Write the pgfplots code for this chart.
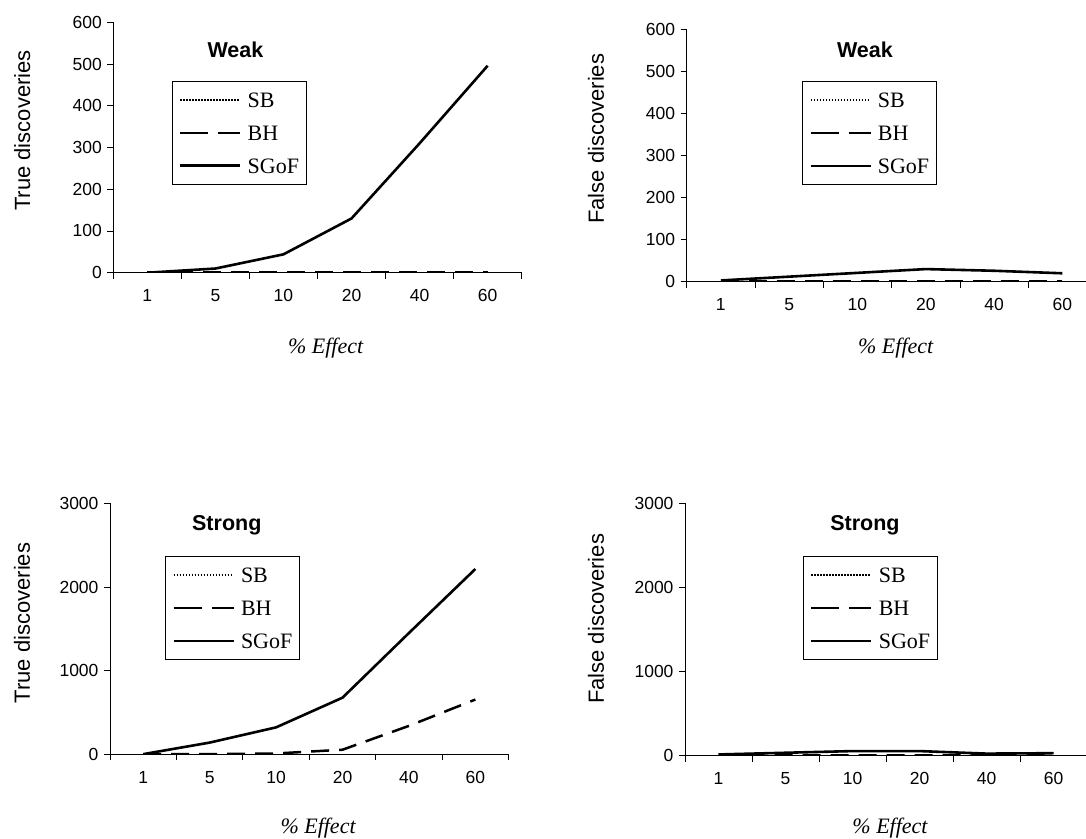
\documentclass[border=0pt]{standalone}
\usepackage{fontspec}
\setmainfont{Liberation Serif}
\setsansfont{Liberation Sans}
\usepackage{pgfplots}
\pgfplotsset{compat=1.18}

% Excel-like panel: left/bottom axis only, categories between boundary ticks
\pgfplotsset{
  excel/.style={
    scale only axis,
    axis lines*=left,
    axis line style={-, line width=0.8pt},
    anchor=south west,
    xmin=-0.5, xmax=5.5, ymin=0,
    tick align=outside,
    major tick length=6pt,
    every tick/.style={black, line width=0.8pt},
    xtick={-0.5,0.5,...,5.5}, xticklabels={},
    extra x ticks={0,1,2,3,4,5},
    extra x tick labels={1,5,10,20,40,60},
    extra x tick style={major tick length=0pt},
    scaled y ticks=false,
    /pgf/number format/1000 sep={},
    /pgf/number format/assume math mode=true,
    tick label style={font=\sffamily\fontsize{17.5}{17.5}\selectfont},
    xticklabel style={yshift=-13.5pt},
    yticklabel style={xshift=-2pt},
    ylabel style={anchor=center, font=\sffamily\fontsize{22}{22}\selectfont},
    xlabel={\% Effect},
    xlabel style={anchor=center,
      font=\rmfamily\itshape\fontsize{22}{22}\selectfont},
    every axis title shift=0pt,
    title style={anchor=center, font=\sffamily\bfseries\fontsize{21.5}{21.5}\selectfont},
    legend cell align=left,
    legend image code/.code={\draw[#1] (0pt,0pt) -- (60pt,0pt);},
    legend style={anchor=north west, draw=black, line width=0.8pt,
      font=\rmfamily\fontsize{22}{22}\selectfont,
      inner xsep=7pt, inner ysep=11pt, row sep=18pt,
      nodes={inner sep=0pt, text height=15pt, text depth=0pt},
      /tikz/every odd column/.append style={column sep=6pt}},
  },
  sb/.style={black, line width=1.5pt, dash pattern=on 1.5pt off 1.5pt},
  bh/.style={black, line width=2.5pt, dash pattern=on 18pt off 10pt,
    legend image post style={dash pattern=on 28pt off 10pt}},
  sgof/.style={black, line width=2.6pt},
}

\begin{document}
\begin{tikzpicture}
\path[use as bounding box] (0pt,0pt) rectangle (1086pt,-838pt);

% Weak, true discoveries
\begin{axis}[excel, at={(113.3pt,-272.7pt)}, width=408.4pt, height=250.4pt,
  ymax=600, ytick={0,100,...,600},
  ylabel={True discoveries},
  ylabel style={at={(axis description cs:-0.223,0.568)}},
  title={Weak}, title style={at={(axis description cs:0.299,0.889)}},
  legend style={at={(axis description cs:0.143,0.766)}},
  xlabel style={at={(axis description cs:0.52,0)}, yshift=-75pt}]
\addplot[sb] coordinates {(0,0) (1,0) (2,0) (3,0) (4,0) (5,0)};
\addplot[bh] coordinates {(0,0) (1,0) (2,0) (3,0) (4,0) (5,0)};
\addplot[sgof] coordinates {(0,0) (1,10) (2,44) (3,130) (4,310) (5,496)};
\legend{SB, BH, SGoF}
\end{axis}

% Weak, false discoveries (cut by the right edge, as in the source)
\begin{axis}[excel, at={(686.7pt,-281.7pt)}, width=409.8pt, height=252.5pt,
  ymax=600, ytick={0,100,...,600},
  ylabel={False discoveries},
  ylabel style={at={(axis description cs:-0.2216,0.566)}},
  title={Weak}, title style={at={(axis description cs:0.435,0.918)}},
  legend style={at={(axis description cs:0.281,0.795)}},
  xlabel style={at={(axis description cs:0.51,0)}, yshift=-66pt}]
\addplot[sb] coordinates {(0,0) (1,0) (2,0) (3,0) (4,0) (5,0)};
\addplot[bh] coordinates {(0,0) (1,0) (2,0) (3,0) (4,0) (5,0)};
\addplot[sgof] coordinates {(0,3) (1,12) (2,21) (3,30) (4,26) (5,20)};
\legend{SB, BH, SGoF}
\end{axis}

% Strong, true discoveries
\begin{axis}[excel, at={(110pt,-754.3pt)}, width=398.6pt, height=251pt,
  ymax=3000, ytick={0,1000,2000,3000},
  ylabel={True discoveries},
  ylabel style={at={(axis description cs:-0.221,0.523)}},
  title={Strong}, title style={at={(axis description cs:0.293,0.914)}},
  legend style={at={(axis description cs:0.138,0.79)}},
  xlabel style={at={(axis description cs:0.522,0)}, yshift=-73.7pt}]
\addplot[sb] coordinates {(0,0) (1,0) (2,0) (3,0) (4,0) (5,0)};
\addplot[bh] coordinates {(0,0) (1,2) (2,10) (3,55) (4,340) (5,655)};
\addplot[sgof] coordinates {(0,2) (1,140) (2,322) (3,677) (4,1450) (5,2215)};
\legend{SB, BH, SGoF}
\end{axis}

% Strong, false discoveries (cut by the right edge, as in the source)
\begin{axis}[excel, at={(685pt,-755.7pt)}, width=402pt, height=252.4pt,
  ymax=3000, ytick={0,1000,2000,3000},
  ylabel={False discoveries},
  ylabel style={at={(axis description cs:-0.2216,0.542)}},
  title={Strong}, title style={at={(axis description cs:0.4475,0.914)}},
  legend style={at={(axis description cs:0.293,0.791)}},
  xlabel style={at={(axis description cs:0.51,0)}, yshift=-72.3pt}]
\addplot[sb] coordinates {(0,0) (1,0) (2,0) (3,0) (4,0) (5,0)};
\addplot[bh] coordinates {(0,2) (1,3) (2,5) (3,5) (4,5) (5,5)};
\addplot[sgof] coordinates {(0,15) (1,35) (2,55) (3,55) (4,25) (5,30)};
\legend{SB, BH, SGoF}
\end{axis}
\end{tikzpicture}
\end{document}
